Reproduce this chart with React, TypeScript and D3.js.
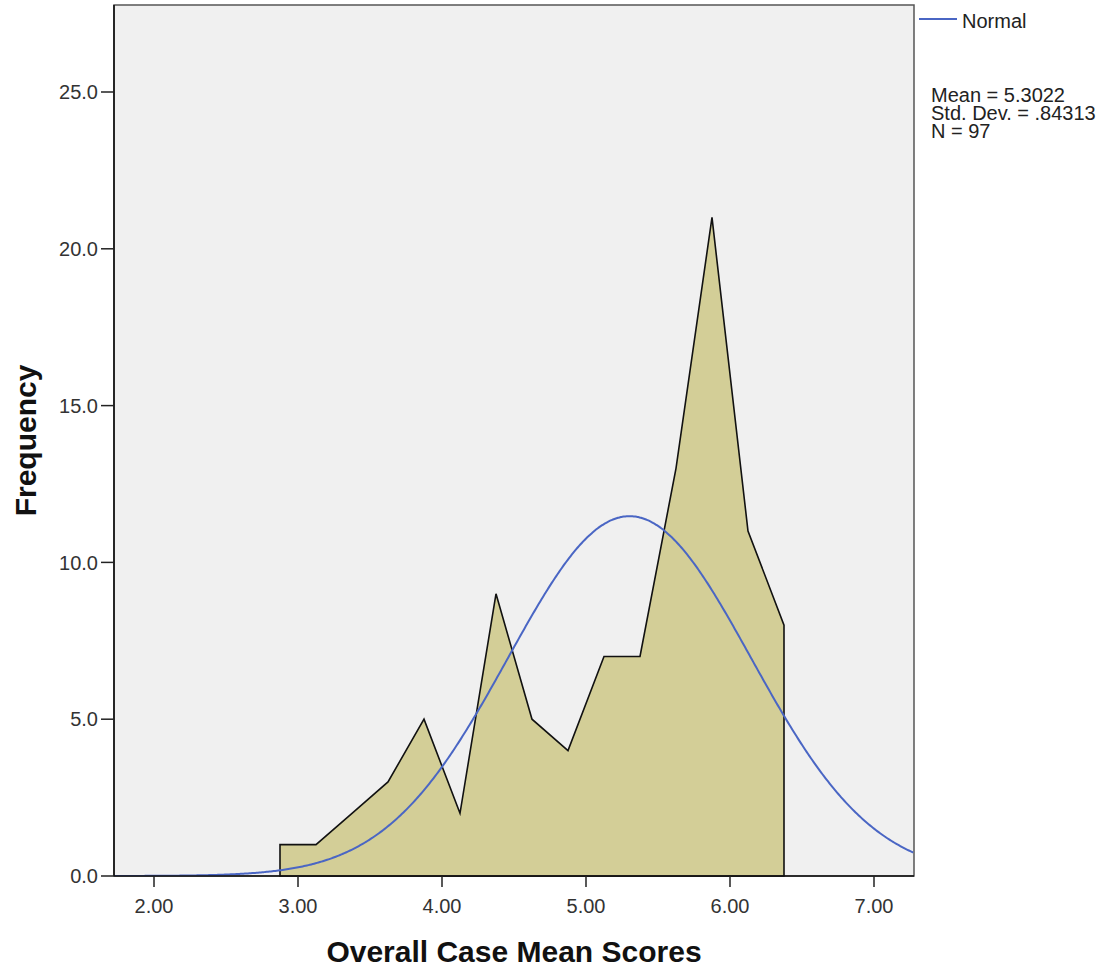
import React from "react";
import * as d3 from "d3";

// Bin midpoints (width 0.25) and frequencies
const binMids = [2.875, 3.125, 3.375, 3.625, 3.875, 4.125, 4.375, 4.625, 4.875, 5.125, 5.375, 5.625, 5.875, 6.125, 6.375];
const freqs = [1, 1, 2, 3, 5, 2, 9, 5, 4, 7, 7, 13, 21, 11, 8];
const binWidth = 0.25;

const xTicks = [2, 3, 4, 5, 6, 7];
const yTicks = [0, 5, 10, 15, 20, 25];

const stats = { mean: 5.3022, sd: 0.84313, n: 97 };
const statLines = ["Mean = 5.3022", "Std. Dev. = .84313", "N = 97"];

const W = 1113;
const H = 970;
const left = 114;
const right = 914;
const top = 5;
const bottom = 876;

export default function App() {
  const x = d3.scaleLinear().domain([1.7222, 7.2778]).range([left, right]);
  const y = d3.scaleLinear().domain([0, (bottom - top) / 31.36]).range([bottom, top]);

  const pts: [number, number][] = [
    [binMids[0], 0],
    ...binMids.map((m, i) => [m, freqs[i]] as [number, number]),
    [binMids[binMids.length - 1], 0],
  ];
  const polyPath = d3.line<[number, number]>().x((d) => x(d[0])).y((d) => y(d[1]))(pts) + "Z";

  const [d0, d1] = x.domain();
  const scale = (stats.n * binWidth) / (stats.sd * Math.sqrt(2 * Math.PI));
  const curvePts: [number, number][] = d3.range(d0, d1 + 0.001, 0.01).map((v) => [
    v,
    scale * Math.exp(-0.5 * ((v - stats.mean) / stats.sd) ** 2),
  ]);
  const curvePath = d3.line<[number, number]>().x((d) => x(d[0])).y((d) => y(d[1])).curve(d3.curveBasis)(curvePts) || "";

  const font = "'Liberation Sans', Arial, sans-serif";

  return (
    <svg width={W} height={H} style={{ position: "absolute", left: 0, top: 0 }}>
      <defs>
        <clipPath id="plotClip">
          <rect x={left} y={top} width={right - left} height={bottom - top} />
        </clipPath>
      </defs>
      <rect x={0} y={0} width={W} height={H} fill="#fff" />
      <rect x={left} y={top} width={right - left} height={bottom - top} fill="#F0F0F0" stroke="#555" strokeWidth={1.5} />
      <path d={polyPath} fill="#D3CE97" stroke="#111" strokeWidth={1.6} strokeLinejoin="miter" />
      <path d={curvePath} fill="none" stroke="#4A66C4" strokeWidth={2} clipPath="url(#plotClip)" />
      {/* axes */}
      <line x1={left} x2={left} y1={top} y2={bottom} stroke="#111" strokeWidth={1.6} />
      <line x1={left} x2={right} y1={bottom} y2={bottom} stroke="#111" strokeWidth={1.6} />
      {yTicks.map((t) => (
        <g key={"y" + t}>
          <line x1={left - 13} x2={left} y1={y(t)} y2={y(t)} stroke="#222" strokeWidth={1.5} />
          <text x={left - 16} y={y(t)} dy="0.36em" textAnchor="end" fontFamily={font} fontSize={20} fill="#333">
            {t.toFixed(1)}
          </text>
        </g>
      ))}
      {xTicks.map((t) => (
        <g key={"x" + t}>
          <line x1={x(t)} x2={x(t)} y1={bottom} y2={bottom + 11} stroke="#222" strokeWidth={1.5} />
          <text x={x(t)} y={913} textAnchor="middle" fontFamily={font} fontSize={20} fill="#333">
            {t.toFixed(2)}
          </text>
        </g>
      ))}
      <text x={(left + right) / 2} y={962} textAnchor="middle" fontFamily={font} fontSize={30} fontWeight="bold" fill="#111">
        Overall Case Mean Scores
      </text>
      <text transform={`translate(36, ${(top + bottom) / 2}) rotate(-90)`} textAnchor="middle" fontFamily={font} fontSize={30} fontWeight="bold" fill="#111">
        Frequency
      </text>
      {/* legend */}
      <line x1={919} x2={957} y1={19} y2={19} stroke="#4A66C4" strokeWidth={2} />
      <text x={962} y={28} fontFamily={font} fontSize={20} fill="#222">Normal</text>
      {statLines.map((s, i) => (
        <text key={s} x={931} y={102 + i * 18} fontFamily={font} fontSize={20} fill="#222">
          {s}
        </text>
      ))}
    </svg>
  );
}
